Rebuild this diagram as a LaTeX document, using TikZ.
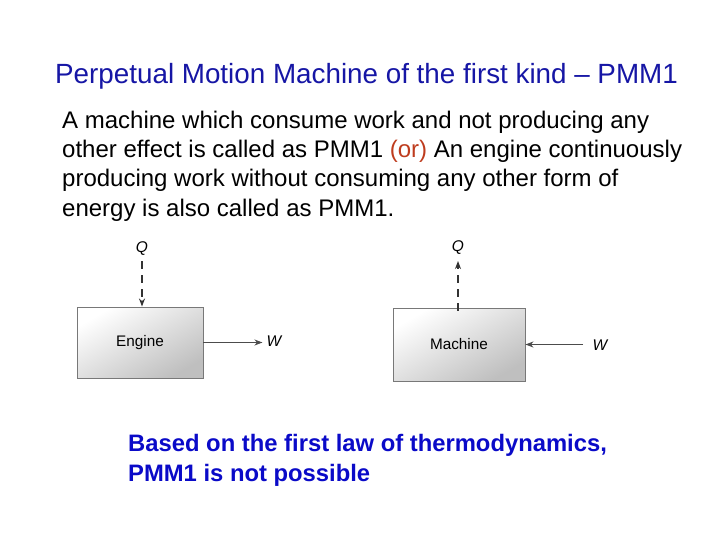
\documentclass[tikz,border=0pt]{standalone}
\usepackage{fontspec}
\setmainfont{Liberation Sans}
\usetikzlibrary{arrows.meta}
\definecolor{titleblue}{RGB}{22,22,165}
\definecolor{boldblue}{RGB}{10,10,200}
\definecolor{orred}{RGB}{190,60,30}
\definecolor{boxedge}{RGB}{120,120,120}
\tikzset{
  x=1pt,y=-1pt,
  bodyline/.style={anchor=base west,inner sep=0pt,font=\fontsize{24}{28}\selectfont},
  concl/.style={anchor=base west,inner sep=0pt,font=\fontsize{23.8}{28}\selectfont\bfseries,text=boldblue},
  devbox/.style={draw=boxedge,line width=0.9pt,top color=white,bottom color=black!25,shading angle=30,inner sep=0pt,font=\fontsize{15.3}{18}\selectfont},
  lab/.style={inner sep=0pt,font=\fontsize{15.5}{18}\selectfont\itshape},
  flow/.style={draw=black!70,line width=0.9pt,-{Stealth[length=8pt,width=6pt,inset=2.5pt]}},
  heat/.style={flow,line width=1.3pt,draw=black!80,dash pattern=on 8pt off 6pt}
}
\begin{document}
\begin{tikzpicture}
\useasboundingbox (0,0) rectangle (720,540);
\node[anchor=base west,inner sep=0pt,font=\fontsize{27.8}{32}\selectfont,text=titleblue] (title) at (55,84) {Perpetual Motion Machine of the first kind -- PMM1};
\node[bodyline] (l1) at (62,129) {A machine which consume work and not producing any};
\node[bodyline] (l2) at (62,158) {other effect is called as PMM1 \textcolor{orred}{(or)} An engine continuously};
\node[bodyline] (l3) at (62,187) {producing work without consuming any other form of};
\node[bodyline] (l4) at (62,216) {energy is also called as PMM1.};
% engine
\node[devbox,minimum width=126pt,minimum height=71pt] (eng) at (140,342.5) {Engine};
\node[lab] (q1) at (142,249) {Q};
\node[lab] (w1) at (274,341) {W};
\coordinate (q1s) at (142,261);
\draw[heat] (q1s) -- (eng.north -| q1s);
\draw[flow] (eng.east) -- ++(59,0) coordinate (w1a);
% machine
\node[devbox,minimum width=132pt,minimum height=73pt] (mac) at (459,344.5) {Machine};
\node[lab] (q2) at (458,248) {Q};
\node[lab] (w2) at (600,345) {W};
\coordinate (q2s) at (458,261);
\draw[heat] ([yshift=-3pt]mac.north -| q2s) -- (q2s);
\draw[flow] (583,344.5) coordinate (w2s) -- (mac.east);
% conclusion
\node[concl] (c1) at (128,451) {Based on the first law of thermodynamics,};
\node[concl] (c2) at (128,481) {PMM1 is not possible};
\end{tikzpicture}
\end{document}
